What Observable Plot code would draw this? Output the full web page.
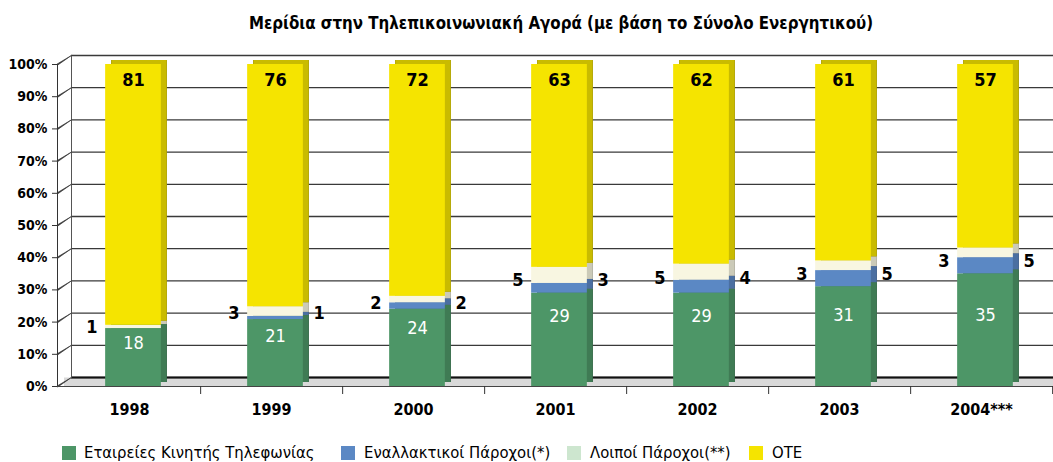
<!DOCTYPE html>
<html>
<head>
<meta charset="utf-8">
<script src="https://cdn.jsdelivr.net/npm/d3@7"></script>
<script src="https://cdn.jsdelivr.net/npm/@observablehq/plot@0.6"></script>
<style>
  body { margin: 0; background: #fff; font-family: "DejaVu Sans", sans-serif; font-stretch: condensed; color: #000; }
  #wrap { position: relative; width: 1053px; height: 462px; overflow: hidden; }
  #title { position: absolute; top: 1px; left: 561px; transform: translateX(-50%) scaleX(0.93); height: 44px; line-height: 44px; font-weight: bold; font-size: 18px; white-space: nowrap; font-stretch: condensed; }
  #chart { position: absolute; top: 44px; left: 0; }
  #chart svg text { font-stretch: condensed; }
  .lg { position: absolute; top: 444px; font-size: 16.5px; line-height: 18px; white-space: nowrap; font-stretch: condensed; }
  .sw { position: absolute; top: 446px; width: 14px; height: 14px; }
</style>
</head>
<body>
<div id="wrap">
  <div id="title">Μερίδια στην Τηλεπικοινωνιακή Αγορά (με βάση το Σύνολο Ενεργητικού)</div>
  <div id="chart"></div>
  <div id="legend"></div>
</div>
<script>
const years = ["1998", "1999", "2000", "2001", "2002", "2003", "2004***"];
const series = ["Εταιρείες Κινητής Τηλεφωνίας", "Εναλλακτικοί Πάροχοι(*)", "Λοιποί Πάροχοι(**)", "ΟΤΕ"];
const mobile = [18, 21, 24, 29, 29, 31, 35];
const alt    = [0, 1, 2, 3, 4, 5, 5];
const other  = [1, 3, 2, 5, 5, 3, 3];
const ote    = [81, 76, 72, 63, 62, 61, 57];
const yTicks = [0, 0.1, 0.2, 0.3, 0.4, 0.5, 0.6, 0.7, 0.8, 0.9, 1];

const colors = ["#4d9667", "#5b88c4", "#f8f6e1", "#f5e400"];
const legendColors = ["#4d9667", "#5b88c4", "#cde6cf", "#f5e400"];

const W = 1053, H = 392, mL = 57, mR = 0, mT = 20, mB = 50;
const step = (W - mL - mR) / years.length;
const barW = 56, inset = (step - barW) / 2, shift = 4;
const FONT = '"DejaVu Sans", sans-serif';

const data = years.flatMap((yr, i) => [
  {year: yr, series: series[0], value: mobile[i]},
  {year: yr, series: series[1], value: alt[i]},
  {year: yr, series: series[2], value: other[i]},
  {year: yr, series: series[3], value: ote[i]}
]);
const totals = years.map((_, i) => mobile[i] + alt[i] + other[i] + ote[i]);
// green value label sits in the upper part of the green segment
const greenLabels = years.map((yr, i) => ({year: yr, y: Math.min(mobile[i] * 0.75, 22) / totals[i], t: mobile[i]}));
const oteLabels = years.map((yr, i) => ({year: yr, y: 1, t: ote[i]}));
const midLabels = years.map((yr, i) => ({year: yr, y: (mobile[i] + (alt[i] + other[i]) / 2) / totals[i], other: other[i], alt: alt[i]}));

const barOpts = {x: "year", y: "value", offset: "normalize", order: series, z: "series", insetLeft: inset, insetRight: inset};

const chart = Plot.plot({
  width: W, height: H,
  marginLeft: mL, marginRight: mR, marginTop: mT, marginBottom: mB,
  style: {fontFamily: FONT, color: "#000", background: "#fff"},
  x: {domain: years, padding: 0, axis: null},
  y: {domain: [0, 1], axis: null},
  color: {domain: series, range: colors},
  marks: [
    // floor
    Plot.ruleY([0], {stroke: "#d9d9d9", strokeWidth: 9, dx: 7, dy: -4.5}),
    // back wall gridlines
    Plot.ruleY(yTicks, {stroke: "#3a3a3a", strokeWidth: 1.3, dx: 14, dy: -9}),
    Plot.ruleY([0], {stroke: "#111", strokeWidth: 2, dx: 14, dy: -9}),
    Plot.frame({anchor: "left", dx: 14, dy: -9, stroke: "#555"}),
    // side wall slants
    Plot.vector(yTicks, {y: d => d, frameAnchor: "left", length: 16.6, rotate: 57, anchor: "start", shape: "spike", r: 0.6, fill: "#333", stroke: "#333", strokeWidth: 0.6}),
    // bar depth (dark + coloured overlay)
    Plot.barY(data, {...barOpts, fill: "#000", dx: shift + 6, dy: -4}),
    Plot.barY(data, {...barOpts, fill: "series", fillOpacity: 0.82, dx: shift + 6, dy: -4}),
    // bar front
    Plot.barY(data, {...barOpts, fill: "series", dx: shift}),
    // front axes
    Plot.frame({anchor: "left", stroke: "#333"}),
    Plot.ruleY([0], {stroke: "#444"}),
    Plot.axisY(yTicks, {tickFormat: d3.format(".0%"), tickSize: 5, tickPadding: 5, fontSize: 14, fontWeight: "bold", stroke: "#333", label: null}),
    Plot.axisX({tickSize: 8, tickFormat: () => "", dx: step / 2, stroke: "#333", label: null}),
    Plot.axisX({tickSize: 0, tickPadding: 17, fontSize: 16, fontWeight: "bold", label: null}),
    // labels
    Plot.text(greenLabels, {x: "year", y: "y", text: "t", fill: "#fff", fontSize: 18, dx: shift}),
    Plot.text(oteLabels, {x: "year", y: "y", text: "t", fill: "#000", fontSize: 18, fontWeight: "bold", dx: shift, dy: 16}),
    Plot.text(midLabels.filter(d => d.other > 0), {x: "year", y: "y", text: "other", fill: "#000", fontSize: 18, fontWeight: "bold", textAnchor: "end", dx: -32}),
    Plot.text(midLabels.filter(d => d.alt > 0), {x: "year", y: "y", text: "alt", fill: "#000", fontSize: 18, fontWeight: "bold", textAnchor: "start", dx: 42})
  ]
});
document.getElementById("chart").appendChild(chart);

const legendX = [{sw: 62, tx: 84}, {sw: 341, tx: 364}, {sw: 567, tx: 590}, {sw: 749, tx: 772}];
const lg = document.getElementById("legend");
series.forEach((s, i) => {
  const sw = document.createElement("div");
  sw.className = "sw"; sw.style.left = legendX[i].sw + "px"; sw.style.background = legendColors[i];
  lg.appendChild(sw);
  const tx = document.createElement("div");
  tx.className = "lg"; tx.style.left = legendX[i].tx + "px"; tx.textContent = s;
  lg.appendChild(tx);
});
</script>
</body>
</html>
